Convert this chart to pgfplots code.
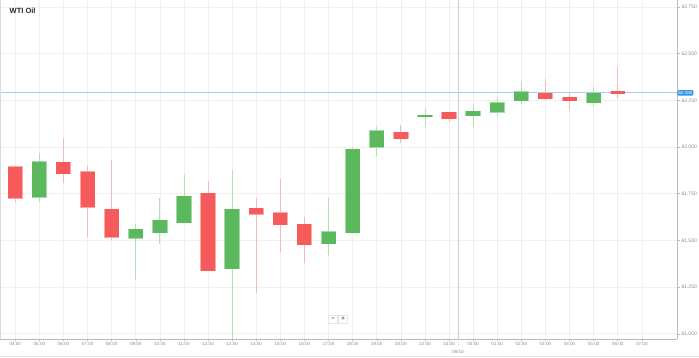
\documentclass[border=0pt]{standalone}
\usepackage{pgfplots}
\usepackage{pgfplotstable}
\pgfplotsset{compat=1.18}
\usepackage{fontspec}
\setmainfont{Liberation Sans}
\definecolor{gbody}{HTML}{5CB85C}
\definecolor{gedge}{HTML}{A3DAA3}
\definecolor{gwick}{HTML}{B3E0B3}
\definecolor{rbody}{HTML}{F65A5A}
\definecolor{redge}{HTML}{F9A8A8}
\definecolor{rwick}{HTML}{F8B8B8}
\definecolor{gridc}{HTML}{F0F0F0}
\definecolor{axisc}{HTML}{B8B8B8}
\definecolor{tickc}{HTML}{8A8A8A}
\definecolor{priceline}{HTML}{A6CDF0}
\definecolor{pricebox}{HTML}{2F96E8}
% rising candles: position, open, high, low, close
\pgfplotstableread{
x  o       h       l       c
1  61.731  61.969  61.707  61.921
5  61.511  61.588  61.288  61.559
6  61.541  61.725  61.480  61.607
7  61.595  61.850  61.595  61.736
9  61.348  61.877  60.960  61.666
13 61.482  61.725  61.416  61.546
14 61.541  61.998  61.541  61.988
15 61.998  62.109  61.953  62.087
17 62.161  62.207  62.114  62.171
19 62.166  62.229  62.100  62.193
20 62.186  62.269  62.168  62.237
21 62.248  62.354  62.230  62.296
24 62.236  62.320  62.220  62.288
}\upt
% falling candles: position, open, high, low, close
\pgfplotstableread{
x  o       h       l       c
0  61.894  61.900  61.707  61.725
2  61.918  62.047  61.809  61.857
3  61.868  61.898  61.520  61.677
4  61.666  61.930  61.502  61.516
8  61.754  61.818  61.337  61.337
10 61.672  61.728  61.216  61.640
11 61.648  61.827  61.439  61.582
12 61.588  61.627  61.377  61.477
16 62.079  62.118  62.020  62.044
18 62.187  62.187  62.134  62.152
22 62.288  62.363  62.252  62.257
23 62.266  62.291  62.198  62.246
25 62.300  62.430  62.259  62.285
}\dnt
\pgfplotsset{
  wick/.style={draw=none, mark=none, forget plot,
    error bars/.cd, y dir=plus, y explicit, error mark=none,
    error bar style={draw=#1, line width=0.9pt}},
  body/.style 2 args={draw=none, mark=none, forget plot,
    error bars/.cd, y dir=plus, y explicit, error mark=none,
    error bar style={draw=#1, line width=#2, line cap=butt}},
}
\begin{document}
\begin{tikzpicture}
\begin{axis}[
  at={(0pt,0pt)}, anchor=south west,
  scale only axis, width=677pt, height=339pt,
  xmin=-0.635, xmax=27.46, ymin=60.972, ymax=62.787,
  clip mode=individual,
  axis x line*=bottom, axis y line*=right,
  axis line style={draw=axisc,-,line width=0.6pt},
  xtick={0,...,26},
  xticklabels={04:00,05:00,06:00,07:00,08:00,09:00,10:00,11:00,12:00,13:00,14:00,15:00,16:00,17:00,18:00,19:00,20:00,22:00,23:00,00:00,01:00,02:00,03:00,04:00,05:00,06:00,07:00},
  ytick={61,61.25,61.5,61.75,62,62.25,62.5,62.75},
  yticklabels={61.000,61.250,61.500,61.750,62.000,62.250,62.500,62.750},
  xtick style={draw=axisc,line width=0.5pt},
  ytick style={draw=axisc,line width=0.5pt},
  x tick label style={},
  major tick length=2.5pt, tick align=outside,
  xticklabel style={font=\fontsize{4.6}{5}\selectfont, text=tickc, yshift=2.5pt},
  yticklabel style={font=\fontsize{5}{6}\selectfont, text=tickc, anchor=west, xshift=-1.5pt},
  grid=major, major grid style={draw=gridc,line width=0.6pt},
]
\addplot[priceline, line width=0.9pt] coordinates {(-0.635,62.29) (27.46,62.29)};
\draw[axisc!70!white, line width=0.6pt] (axis cs:18.37,60.972) -- (axis cs:18.37,62.787);
\draw[axisc!70!white, line width=0.6pt, dotted] (axis cs:18.37,60.972) -- ++(0pt,-7pt);
% wicks
\addplot[wick=gwick] table[x=x, y=l, y error expr=\thisrow{h}-\thisrow{l}] {\upt};
\addplot[wick=rwick] table[x=x, y=l, y error expr=\thisrow{h}-\thisrow{l}] {\dnt};
% bodies (edge, then fill)
\addplot[body={gedge}{15.4pt}] table[x=x, y expr=\thisrow{o}-0.0016, y error expr=\thisrow{c}-\thisrow{o}+0.0032] {\upt};
\addplot[body={redge}{15.4pt}] table[x=x, y expr=\thisrow{c}-0.0016, y error expr=\thisrow{o}-\thisrow{c}+0.0032] {\dnt};
\addplot[body={gbody}{14pt}] table[x=x, y=o, y error expr=\thisrow{c}-\thisrow{o}] {\upt};
\addplot[body={rbody}{14pt}] table[x=x, y=c, y error expr=\thisrow{o}-\thisrow{c}] {\dnt};
\node[fill=pricebox, text=white, font=\fontsize{4.5}{5}\selectfont, inner xsep=1pt, inner ysep=1.1pt, rounded corners=0.8pt, anchor=west] at (axis cs:27.48,62.29) {62.280};
\node[font=\fontsize{4.6}{5}\selectfont, text=tickc] at (axis cs:18.37,60.972) [yshift=-13pt] {08/10};
\end{axis}
\draw[axisc!50!white, line width=0.6pt] (0.4pt,0pt) -- (0.4pt,339pt);
\draw[gridc!80!black!40!white, line width=0.6pt] (0pt,-17.7pt) -- (699pt,-17.7pt);
\node[draw=gridc!70!black!30!white, fill=white, minimum width=9pt, minimum height=8pt, inner sep=0pt, font=\fontsize{6}{6}\selectfont\bfseries, text=black!70] at (333pt,20pt) {−};
\node[draw=gridc!70!black!30!white, fill=white, minimum width=9pt, minimum height=8pt, inner sep=0pt, font=\fontsize{6}{6}\selectfont\bfseries, text=black!70] at (343pt,20pt) {+};
\node[font=\fontsize{7.5}{8}\selectfont\bfseries, text=black!85, anchor=west, inner sep=0pt] at (9.5pt,328pt) {WTI Oil};
\pgfresetboundingbox
\path[use as bounding box] (0pt,-19pt) rectangle (699pt,339pt);
\end{tikzpicture}
\end{document}
